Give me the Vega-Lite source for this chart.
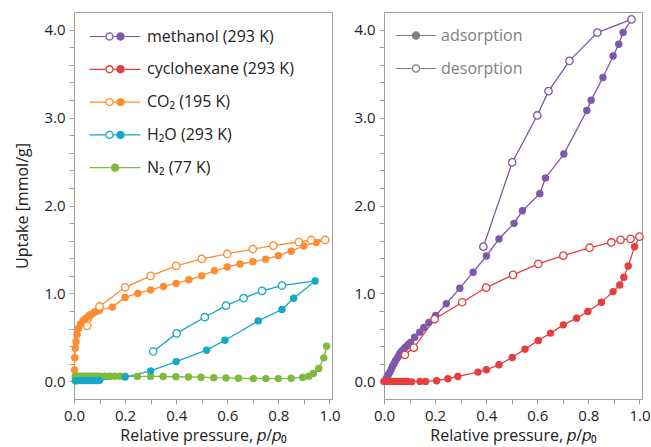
{
"$schema": "https://vega.github.io/schema/vega-lite/v6.json",
"background": "white",
"padding": {"left": 14, "top": 11, "right": 5, "bottom": 3},
"bounds": "flush",
"spacing": 52,
"config": {
  "font": "Open Sans",
  "view": {"stroke": "#a0a0a0", "strokeWidth": 1},
  "axis": {"domainColor": "#a0a0a0", "tickColor": "#a0a0a0", "grid": false, "labelFont": "Open Sans", "labelFontSize": 15, "labelColor": "#222222", "titleFont": "Open Sans", "titleFontSize": 16, "titleFontWeight": "normal", "titleColor": "#222222", "tickSize": 5, "labelPadding": 4, "labelFlush": false, "labelOverlap": false},
  "legend": {"padding": 0, "labelFont": "Open Sans", "labelFontSize": 16, "labelLimit": 300}
},
"resolve": {"scale": {"color": "independent", "shape": "independent"}, "legend": {"color": "independent", "shape": "independent"}},
"datasets": {
  "left": [
    {"g":"CO₂ (195 K)","b":"adsorption","i":1,"p":0.002,"q":0.13},
    {"g":"CO₂ (195 K)","b":"adsorption","i":2,"p":0.003,"q":0.27},
    {"g":"CO₂ (195 K)","b":"adsorption","i":3,"p":0.005,"q":0.38},
    {"g":"CO₂ (195 K)","b":"adsorption","i":4,"p":0.008,"q":0.45},
    {"g":"CO₂ (195 K)","b":"adsorption","i":5,"p":0.012,"q":0.53},
    {"g":"CO₂ (195 K)","b":"adsorption","i":6,"p":0.017,"q":0.6},
    {"g":"CO₂ (195 K)","b":"adsorption","i":7,"p":0.025,"q":0.65},
    {"g":"CO₂ (195 K)","b":"adsorption","i":8,"p":0.035,"q":0.69},
    {"g":"CO₂ (195 K)","b":"adsorption","i":9,"p":0.043,"q":0.71},
    {"g":"CO₂ (195 K)","b":"adsorption","i":10,"p":0.052,"q":0.73},
    {"g":"CO₂ (195 K)","b":"adsorption","i":11,"p":0.061,"q":0.755},
    {"g":"CO₂ (195 K)","b":"adsorption","i":12,"p":0.072,"q":0.77},
    {"g":"CO₂ (195 K)","b":"adsorption","i":13,"p":0.081,"q":0.79},
    {"g":"CO₂ (195 K)","b":"adsorption","i":14,"p":0.091,"q":0.8},
    {"g":"CO₂ (195 K)","b":"adsorption","i":15,"p":0.1,"q":0.81},
    {"g":"CO₂ (195 K)","b":"adsorption","i":16,"p":0.15,"q":0.845},
    {"g":"CO₂ (195 K)","b":"adsorption","i":17,"p":0.2,"q":0.955},
    {"g":"CO₂ (195 K)","b":"adsorption","i":18,"p":0.25,"q":1.0},
    {"g":"CO₂ (195 K)","b":"adsorption","i":19,"p":0.3,"q":1.04},
    {"g":"CO₂ (195 K)","b":"adsorption","i":20,"p":0.35,"q":1.08},
    {"g":"CO₂ (195 K)","b":"adsorption","i":21,"p":0.4,"q":1.115},
    {"g":"CO₂ (195 K)","b":"adsorption","i":22,"p":0.45,"q":1.155},
    {"g":"CO₂ (195 K)","b":"adsorption","i":23,"p":0.5,"q":1.2},
    {"g":"CO₂ (195 K)","b":"adsorption","i":24,"p":0.55,"q":1.26},
    {"g":"CO₂ (195 K)","b":"adsorption","i":25,"p":0.6,"q":1.3},
    {"g":"CO₂ (195 K)","b":"adsorption","i":26,"p":0.65,"q":1.335},
    {"g":"CO₂ (195 K)","b":"adsorption","i":27,"p":0.7,"q":1.36},
    {"g":"CO₂ (195 K)","b":"adsorption","i":28,"p":0.75,"q":1.39},
    {"g":"CO₂ (195 K)","b":"adsorption","i":29,"p":0.8,"q":1.43},
    {"g":"CO₂ (195 K)","b":"adsorption","i":30,"p":0.85,"q":1.48},
    {"g":"CO₂ (195 K)","b":"adsorption","i":31,"p":0.9,"q":1.54},
    {"g":"CO₂ (195 K)","b":"adsorption","i":32,"p":0.948,"q":1.58},
    {"g":"CO₂ (195 K)","b":"desorption","i":33,"p":0.983,"q":1.608},
    {"g":"CO₂ (195 K)","b":"desorption","i":34,"p":0.928,"q":1.608},
    {"g":"CO₂ (195 K)","b":"desorption","i":35,"p":0.88,"q":1.585},
    {"g":"CO₂ (195 K)","b":"desorption","i":36,"p":0.78,"q":1.544},
    {"g":"CO₂ (195 K)","b":"desorption","i":37,"p":0.7,"q":1.505},
    {"g":"CO₂ (195 K)","b":"desorption","i":38,"p":0.6,"q":1.449},
    {"g":"CO₂ (195 K)","b":"desorption","i":39,"p":0.5,"q":1.393},
    {"g":"CO₂ (195 K)","b":"desorption","i":40,"p":0.4,"q":1.313},
    {"g":"CO₂ (195 K)","b":"desorption","i":41,"p":0.3,"q":1.2},
    {"g":"CO₂ (195 K)","b":"desorption","i":42,"p":0.2,"q":1.07},
    {"g":"CO₂ (195 K)","b":"desorption","i":43,"p":0.1,"q":0.852},
    {"g":"CO₂ (195 K)","b":"desorption","i":44,"p":0.052,"q":0.632},
    {"g":"N₂ (77 K)","b":"adsorption","i":1,"p":0.005,"q":0.055},
    {"g":"N₂ (77 K)","b":"adsorption","i":2,"p":0.01,"q":0.058},
    {"g":"N₂ (77 K)","b":"adsorption","i":3,"p":0.02,"q":0.06},
    {"g":"N₂ (77 K)","b":"adsorption","i":4,"p":0.03,"q":0.06},
    {"g":"N₂ (77 K)","b":"adsorption","i":5,"p":0.04,"q":0.06},
    {"g":"N₂ (77 K)","b":"adsorption","i":6,"p":0.05,"q":0.06},
    {"g":"N₂ (77 K)","b":"adsorption","i":7,"p":0.06,"q":0.06},
    {"g":"N₂ (77 K)","b":"adsorption","i":8,"p":0.07,"q":0.06},
    {"g":"N₂ (77 K)","b":"adsorption","i":9,"p":0.08,"q":0.06},
    {"g":"N₂ (77 K)","b":"adsorption","i":10,"p":0.09,"q":0.06},
    {"g":"N₂ (77 K)","b":"adsorption","i":11,"p":0.1,"q":0.06},
    {"g":"N₂ (77 K)","b":"adsorption","i":12,"p":0.12,"q":0.06},
    {"g":"N₂ (77 K)","b":"adsorption","i":13,"p":0.14,"q":0.06},
    {"g":"N₂ (77 K)","b":"adsorption","i":14,"p":0.16,"q":0.06},
    {"g":"N₂ (77 K)","b":"adsorption","i":15,"p":0.18,"q":0.06},
    {"g":"N₂ (77 K)","b":"adsorption","i":16,"p":0.2,"q":0.058},
    {"g":"N₂ (77 K)","b":"adsorption","i":17,"p":0.248,"q":0.057},
    {"g":"N₂ (77 K)","b":"adsorption","i":18,"p":0.3,"q":0.057},
    {"g":"N₂ (77 K)","b":"adsorption","i":19,"p":0.349,"q":0.056},
    {"g":"N₂ (77 K)","b":"adsorption","i":20,"p":0.399,"q":0.053},
    {"g":"N₂ (77 K)","b":"adsorption","i":21,"p":0.448,"q":0.05},
    {"g":"N₂ (77 K)","b":"adsorption","i":22,"p":0.497,"q":0.048},
    {"g":"N₂ (77 K)","b":"adsorption","i":23,"p":0.547,"q":0.042},
    {"g":"N₂ (77 K)","b":"adsorption","i":24,"p":0.595,"q":0.04},
    {"g":"N₂ (77 K)","b":"adsorption","i":25,"p":0.644,"q":0.036},
    {"g":"N₂ (77 K)","b":"adsorption","i":26,"p":0.702,"q":0.032},
    {"g":"N₂ (77 K)","b":"adsorption","i":27,"p":0.751,"q":0.032},
    {"g":"N₂ (77 K)","b":"adsorption","i":28,"p":0.8,"q":0.032},
    {"g":"N₂ (77 K)","b":"adsorption","i":29,"p":0.85,"q":0.035},
    {"g":"N₂ (77 K)","b":"adsorption","i":30,"p":0.895,"q":0.045},
    {"g":"N₂ (77 K)","b":"adsorption","i":31,"p":0.919,"q":0.06},
    {"g":"N₂ (77 K)","b":"adsorption","i":32,"p":0.937,"q":0.09},
    {"g":"N₂ (77 K)","b":"adsorption","i":33,"p":0.958,"q":0.148},
    {"g":"N₂ (77 K)","b":"adsorption","i":34,"p":0.978,"q":0.268},
    {"g":"N₂ (77 K)","b":"adsorption","i":35,"p":0.989,"q":0.4},
    {"g":"H₂O (293 K)","b":"adsorption","i":1,"p":0.005,"q":0.008},
    {"g":"H₂O (293 K)","b":"adsorption","i":2,"p":0.01,"q":0.008},
    {"g":"H₂O (293 K)","b":"adsorption","i":3,"p":0.02,"q":0.009},
    {"g":"H₂O (293 K)","b":"adsorption","i":4,"p":0.03,"q":0.009},
    {"g":"H₂O (293 K)","b":"adsorption","i":5,"p":0.04,"q":0.01},
    {"g":"H₂O (293 K)","b":"adsorption","i":6,"p":0.05,"q":0.01},
    {"g":"H₂O (293 K)","b":"adsorption","i":7,"p":0.06,"q":0.01},
    {"g":"H₂O (293 K)","b":"adsorption","i":8,"p":0.07,"q":0.01},
    {"g":"H₂O (293 K)","b":"adsorption","i":9,"p":0.08,"q":0.01},
    {"g":"H₂O (293 K)","b":"adsorption","i":10,"p":0.09,"q":0.01},
    {"g":"H₂O (293 K)","b":"adsorption","i":11,"p":0.1,"q":0.012},
    {"g":"H₂O (293 K)","b":"adsorption","i":12,"p":0.2,"q":0.05},
    {"g":"H₂O (293 K)","b":"adsorption","i":13,"p":0.3,"q":0.12},
    {"g":"H₂O (293 K)","b":"adsorption","i":14,"p":0.4,"q":0.225},
    {"g":"H₂O (293 K)","b":"adsorption","i":15,"p":0.519,"q":0.355},
    {"g":"H₂O (293 K)","b":"adsorption","i":16,"p":0.591,"q":0.468},
    {"g":"H₂O (293 K)","b":"adsorption","i":17,"p":0.721,"q":0.688},
    {"g":"H₂O (293 K)","b":"adsorption","i":18,"p":0.814,"q":0.817},
    {"g":"H₂O (293 K)","b":"adsorption","i":19,"p":0.86,"q":0.945},
    {"g":"H₂O (293 K)","b":"adsorption","i":20,"p":0.944,"q":1.142},
    {"g":"H₂O (293 K)","b":"desorption","i":21,"p":0.814,"q":1.09},
    {"g":"H₂O (293 K)","b":"desorption","i":22,"p":0.736,"q":1.03},
    {"g":"H₂O (293 K)","b":"desorption","i":23,"p":0.664,"q":0.946},
    {"g":"H₂O (293 K)","b":"desorption","i":24,"p":0.595,"q":0.862},
    {"g":"H₂O (293 K)","b":"desorption","i":25,"p":0.512,"q":0.73},
    {"g":"H₂O (293 K)","b":"desorption","i":26,"p":0.402,"q":0.546},
    {"g":"H₂O (293 K)","b":"desorption","i":27,"p":0.31,"q":0.34}
  ],
  "right": [
    {"g":"methanol (293 K)","b":"adsorption","i":1,"p":0.004,"q":0.008},
    {"g":"methanol (293 K)","b":"adsorption","i":2,"p":0.01,"q":0.04},
    {"g":"methanol (293 K)","b":"adsorption","i":3,"p":0.017,"q":0.076},
    {"g":"methanol (293 K)","b":"adsorption","i":4,"p":0.022,"q":0.1},
    {"g":"methanol (293 K)","b":"adsorption","i":5,"p":0.028,"q":0.135},
    {"g":"methanol (293 K)","b":"adsorption","i":6,"p":0.033,"q":0.17},
    {"g":"methanol (293 K)","b":"adsorption","i":7,"p":0.039,"q":0.202},
    {"g":"methanol (293 K)","b":"adsorption","i":8,"p":0.045,"q":0.235},
    {"g":"methanol (293 K)","b":"adsorption","i":9,"p":0.052,"q":0.265},
    {"g":"methanol (293 K)","b":"adsorption","i":10,"p":0.057,"q":0.29},
    {"g":"methanol (293 K)","b":"adsorption","i":11,"p":0.062,"q":0.315},
    {"g":"methanol (293 K)","b":"adsorption","i":12,"p":0.068,"q":0.34},
    {"g":"methanol (293 K)","b":"adsorption","i":13,"p":0.075,"q":0.36},
    {"g":"methanol (293 K)","b":"adsorption","i":14,"p":0.083,"q":0.385},
    {"g":"methanol (293 K)","b":"adsorption","i":15,"p":0.091,"q":0.405},
    {"g":"methanol (293 K)","b":"adsorption","i":16,"p":0.097,"q":0.425},
    {"g":"methanol (293 K)","b":"adsorption","i":17,"p":0.104,"q":0.443},
    {"g":"methanol (293 K)","b":"adsorption","i":18,"p":0.12,"q":0.503},
    {"g":"methanol (293 K)","b":"adsorption","i":19,"p":0.14,"q":0.56},
    {"g":"methanol (293 K)","b":"adsorption","i":20,"p":0.156,"q":0.612},
    {"g":"methanol (293 K)","b":"adsorption","i":21,"p":0.176,"q":0.67},
    {"g":"methanol (293 K)","b":"adsorption","i":22,"p":0.202,"q":0.75},
    {"g":"methanol (293 K)","b":"adsorption","i":23,"p":0.244,"q":0.883},
    {"g":"methanol (293 K)","b":"adsorption","i":24,"p":0.297,"q":1.06},
    {"g":"methanol (293 K)","b":"adsorption","i":25,"p":0.349,"q":1.242},
    {"g":"methanol (293 K)","b":"adsorption","i":26,"p":0.401,"q":1.426},
    {"g":"methanol (293 K)","b":"adsorption","i":27,"p":0.45,"q":1.62},
    {"g":"methanol (293 K)","b":"adsorption","i":28,"p":0.509,"q":1.797},
    {"g":"methanol (293 K)","b":"adsorption","i":29,"p":0.542,"q":1.94},
    {"g":"methanol (293 K)","b":"adsorption","i":30,"p":0.61,"q":2.135},
    {"g":"methanol (293 K)","b":"adsorption","i":31,"p":0.632,"q":2.313},
    {"g":"methanol (293 K)","b":"adsorption","i":32,"p":0.704,"q":2.585},
    {"g":"methanol (293 K)","b":"adsorption","i":33,"p":0.794,"q":3.08},
    {"g":"methanol (293 K)","b":"adsorption","i":34,"p":0.811,"q":3.198},
    {"g":"methanol (293 K)","b":"adsorption","i":35,"p":0.857,"q":3.455},
    {"g":"methanol (293 K)","b":"adsorption","i":36,"p":0.897,"q":3.7},
    {"g":"methanol (293 K)","b":"adsorption","i":37,"p":0.919,"q":3.833},
    {"g":"methanol (293 K)","b":"adsorption","i":38,"p":0.936,"q":3.966},
    {"g":"methanol (293 K)","b":"desorption","i":39,"p":0.969,"q":4.116},
    {"g":"methanol (293 K)","b":"desorption","i":40,"p":0.835,"q":3.966},
    {"g":"methanol (293 K)","b":"desorption","i":41,"p":0.726,"q":3.644},
    {"g":"methanol (293 K)","b":"desorption","i":42,"p":0.644,"q":3.3},
    {"g":"methanol (293 K)","b":"desorption","i":43,"p":0.6,"q":3.024},
    {"g":"methanol (293 K)","b":"desorption","i":44,"p":0.502,"q":2.49},
    {"g":"methanol (293 K)","b":"desorption","i":45,"p":0.389,"q":1.532},
    {"g":"cyclohexane (293 K)","b":"adsorption","i":1,"p":0.0,"q":0.0},
    {"g":"cyclohexane (293 K)","b":"adsorption","i":2,"p":0.005,"q":0.0},
    {"g":"cyclohexane (293 K)","b":"adsorption","i":3,"p":0.01,"q":0.0},
    {"g":"cyclohexane (293 K)","b":"adsorption","i":4,"p":0.015,"q":0.0},
    {"g":"cyclohexane (293 K)","b":"adsorption","i":5,"p":0.02,"q":0.0},
    {"g":"cyclohexane (293 K)","b":"adsorption","i":6,"p":0.03,"q":0.0},
    {"g":"cyclohexane (293 K)","b":"adsorption","i":7,"p":0.04,"q":0.0},
    {"g":"cyclohexane (293 K)","b":"adsorption","i":8,"p":0.05,"q":0.0},
    {"g":"cyclohexane (293 K)","b":"adsorption","i":9,"p":0.06,"q":0.0},
    {"g":"cyclohexane (293 K)","b":"adsorption","i":10,"p":0.07,"q":0.0},
    {"g":"cyclohexane (293 K)","b":"adsorption","i":11,"p":0.08,"q":0.0},
    {"g":"cyclohexane (293 K)","b":"adsorption","i":12,"p":0.09,"q":0.0},
    {"g":"cyclohexane (293 K)","b":"adsorption","i":13,"p":0.108,"q":-0.005},
    {"g":"cyclohexane (293 K)","b":"adsorption","i":14,"p":0.141,"q":0.0},
    {"g":"cyclohexane (293 K)","b":"adsorption","i":15,"p":0.163,"q":0.0},
    {"g":"cyclohexane (293 K)","b":"adsorption","i":16,"p":0.206,"q":0.008},
    {"g":"cyclohexane (293 K)","b":"adsorption","i":17,"p":0.25,"q":0.03},
    {"g":"cyclohexane (293 K)","b":"adsorption","i":18,"p":0.289,"q":0.056},
    {"g":"cyclohexane (293 K)","b":"adsorption","i":19,"p":0.368,"q":0.106},
    {"g":"cyclohexane (293 K)","b":"adsorption","i":20,"p":0.401,"q":0.132},
    {"g":"cyclohexane (293 K)","b":"adsorption","i":21,"p":0.45,"q":0.189},
    {"g":"cyclohexane (293 K)","b":"adsorption","i":22,"p":0.502,"q":0.272},
    {"g":"cyclohexane (293 K)","b":"adsorption","i":23,"p":0.552,"q":0.367},
    {"g":"cyclohexane (293 K)","b":"adsorption","i":24,"p":0.604,"q":0.465},
    {"g":"cyclohexane (293 K)","b":"adsorption","i":25,"p":0.652,"q":0.549},
    {"g":"cyclohexane (293 K)","b":"adsorption","i":26,"p":0.702,"q":0.643},
    {"g":"cyclohexane (293 K)","b":"adsorption","i":27,"p":0.754,"q":0.719},
    {"g":"cyclohexane (293 K)","b":"adsorption","i":28,"p":0.798,"q":0.795},
    {"g":"cyclohexane (293 K)","b":"adsorption","i":29,"p":0.851,"q":0.9},
    {"g":"cyclohexane (293 K)","b":"adsorption","i":30,"p":0.897,"q":1.021},
    {"g":"cyclohexane (293 K)","b":"adsorption","i":31,"p":0.923,"q":1.097},
    {"g":"cyclohexane (293 K)","b":"adsorption","i":32,"p":0.939,"q":1.184},
    {"g":"cyclohexane (293 K)","b":"adsorption","i":33,"p":0.956,"q":1.313},
    {"g":"cyclohexane (293 K)","b":"adsorption","i":34,"p":0.981,"q":1.532},
    {"g":"cyclohexane (293 K)","b":"desorption","i":35,"p":1.0,"q":1.646},
    {"g":"cyclohexane (293 K)","b":"desorption","i":36,"p":0.965,"q":1.62},
    {"g":"cyclohexane (293 K)","b":"desorption","i":37,"p":0.926,"q":1.61},
    {"g":"cyclohexane (293 K)","b":"desorption","i":38,"p":0.89,"q":1.58},
    {"g":"cyclohexane (293 K)","b":"desorption","i":39,"p":0.805,"q":1.52},
    {"g":"cyclohexane (293 K)","b":"desorption","i":40,"p":0.702,"q":1.43},
    {"g":"cyclohexane (293 K)","b":"desorption","i":41,"p":0.604,"q":1.336},
    {"g":"cyclohexane (293 K)","b":"desorption","i":42,"p":0.505,"q":1.211},
    {"g":"cyclohexane (293 K)","b":"desorption","i":43,"p":0.4,"q":1.067},
    {"g":"cyclohexane (293 K)","b":"desorption","i":44,"p":0.306,"q":0.9},
    {"g":"cyclohexane (293 K)","b":"desorption","i":45,"p":0.198,"q":0.708},
    {"g":"cyclohexane (293 K)","b":"desorption","i":46,"p":0.117,"q":0.385},
    {"g":"cyclohexane (293 K)","b":"desorption","i":47,"p":0.082,"q":0.302}
  ]
},
"hconcat": [
  {
    "width": 258, "height": 387,
    "data": {"name": "left"},
    "encoding": {
      "x": {"field": "p", "type": "quantitative", "scale": {"domain": [0, 1.01], "nice": false, "zero": false},
            "axis": {"values": [0,0.1,0.2,0.3,0.4,0.5,0.6,0.7,0.8,0.9,1.0], "labelExpr": "round(datum.value*10) % 2 == 0 ? format(datum.value, '.1f') : ''", "title": "Relative pressure, 𝑝/𝑝₀", "titlePadding": 4}},
      "y": {"field": "q", "type": "quantitative", "scale": {"domain": [-0.2, 4.2], "nice": false, "zero": false},
            "axis": {"values": [0,0.2,0.4,0.6,0.8,1.0,1.2,1.4,1.6,1.8,2.0,2.2,2.4,2.6,2.8,3.0,3.2,3.4,3.6,3.8,4.0], "labelExpr": "abs(datum.value - round(datum.value)) < 0.01 ? format(datum.value, '.1f') : ''", "title": "Uptake [mmol/g]", "titlePadding": 13}}
    },
    "layer": [
      {"transform": [{"filter": "false"}],
       "mark": {"type": "point", "filled": true, "opacity": 1},
       "encoding": {
         "color": {"field": "g", "type": "nominal", "scale": {"domain": ["methanol (293 K)","cyclohexane (293 K)","CO₂ (195 K)","H₂O (293 K)","N₂ (77 K)"], "range": ["#7E57AB","#E53E3E","#FF8C2E","#14A8C8","#7FBA3C"]},
           "legend": {"orient": "none", "legendX": 24.5, "legendY": 8, "title": null, "symbolSize": 1056, "symbolStrokeWidth": 0, "symbolOpacity": 1, "rowPadding": 7.8, "labelOffset": 15.5, "labelColor": "#222222"}},
         "shape": {"field": "g", "type": "nominal", "scale": {"domain": ["methanol (293 K)","cyclohexane (293 K)","CO₂ (195 K)","H₂O (293 K)","N₂ (77 K)"],
           "range": [
             "M-1.569,-0.037H-0.596V0.037H-1.569Z M-0.08,-0.037H0.08V0.037H-0.08Z M0.596,-0.037H1.569V0.037H0.596Z M-0.08,0A0.258,0.258,0,1,1,-0.596,0A0.258,0.258,0,1,1,-0.08,0Z M-0.16,0A0.178,0.178,0,1,0,-0.516,0A0.178,0.178,0,1,0,-0.16,0Z M0.596,0A0.258,0.258,0,1,1,0.08,0A0.258,0.258,0,1,1,0.596,0Z",
             "M-1.569,-0.037H-0.596V0.037H-1.569Z M-0.08,-0.037H0.08V0.037H-0.08Z M0.596,-0.037H1.569V0.037H0.596Z M-0.08,0A0.258,0.258,0,1,1,-0.596,0A0.258,0.258,0,1,1,-0.08,0Z M-0.16,0A0.178,0.178,0,1,0,-0.516,0A0.178,0.178,0,1,0,-0.16,0Z M0.596,0A0.258,0.258,0,1,1,0.08,0A0.258,0.258,0,1,1,0.596,0Z",
             "M-1.569,-0.037H-0.596V0.037H-1.569Z M-0.08,-0.037H0.08V0.037H-0.08Z M0.596,-0.037H1.569V0.037H0.596Z M-0.08,0A0.258,0.258,0,1,1,-0.596,0A0.258,0.258,0,1,1,-0.08,0Z M-0.16,0A0.178,0.178,0,1,0,-0.516,0A0.178,0.178,0,1,0,-0.16,0Z M0.596,0A0.258,0.258,0,1,1,0.08,0A0.258,0.258,0,1,1,0.596,0Z",
             "M-1.569,-0.037H-0.596V0.037H-1.569Z M-0.08,-0.037H0.08V0.037H-0.08Z M0.596,-0.037H1.569V0.037H0.596Z M-0.08,0A0.258,0.258,0,1,1,-0.596,0A0.258,0.258,0,1,1,-0.08,0Z M-0.16,0A0.178,0.178,0,1,0,-0.516,0A0.178,0.178,0,1,0,-0.16,0Z M0.596,0A0.258,0.258,0,1,1,0.08,0A0.258,0.258,0,1,1,0.596,0Z",
             "M-1.569,-0.037H-0.258V0.037H-1.569Z M0.258,-0.037H1.569V0.037H0.258Z M0.258,0A0.258,0.258,0,1,1,-0.258,0A0.258,0.258,0,1,1,0.258,0Z"]},
           "legend": {"orient": "none", "legendX": 24.5, "legendY": 8, "title": null, "symbolSize": 1056, "symbolStrokeWidth": 0, "symbolOpacity": 1, "rowPadding": 7.8, "labelOffset": 15.5, "labelColor": "#222222"}}
       }},
      {"mark": {"type": "line", "strokeWidth": 1.3},
       "encoding": {"color": {"field": "g", "type": "nominal"},
                    "detail": {"field": "g"}, "order": {"field": "i", "type": "quantitative"}}},
      {"transform": [{"filter": "datum.b === 'adsorption'"}],
       "mark": {"type": "point", "shape": "circle", "filled": true, "size": 55, "opacity": 1},
       "encoding": {"color": {"field": "g", "type": "nominal"}}},
      {"transform": [{"filter": "datum.b === 'desorption'"}],
       "mark": {"type": "point", "shape": "circle", "filled": false, "fill": "white", "size": 55, "strokeWidth": 1.3, "opacity": 1},
       "encoding": {"color": {"field": "g", "type": "nominal"}}}
    ]
  },
  {
    "width": 258, "height": 387,
    "data": {"name": "right"},
    "encoding": {
      "x": {"field": "p", "type": "quantitative", "scale": {"domain": [0, 1.01], "nice": false, "zero": false},
            "axis": {"values": [0,0.1,0.2,0.3,0.4,0.5,0.6,0.7,0.8,0.9,1.0], "labelExpr": "round(datum.value*10) % 2 == 0 ? format(datum.value, '.1f') : ''", "title": "Relative pressure, 𝑝/𝑝₀", "titlePadding": 4}},
      "y": {"field": "q", "type": "quantitative", "scale": {"domain": [-0.2, 4.2], "nice": false, "zero": false},
            "axis": {"values": [0,0.2,0.4,0.6,0.8,1.0,1.2,1.4,1.6,1.8,2.0,2.2,2.4,2.6,2.8,3.0,3.2,3.4,3.6,3.8,4.0], "labelExpr": "abs(datum.value - round(datum.value)) < 0.01 ? format(datum.value, '.1f') : ''", "title": null}}
    },
    "layer": [
      {"transform": [{"filter": "false"}],
       "mark": {"type": "point", "filled": true, "color": "#808080", "opacity": 1},
       "encoding": {
         "shape": {"field": "b", "type": "nominal", "scale": {"domain": ["adsorption","desorption"],
           "range": [
             "M-1.212,-0.036H-0.255V0.036H-1.212Z M0.255,-0.036H1.212V0.036H0.255Z M0.255,0A0.255,0.255,0,1,1,-0.255,0A0.255,0.255,0,1,1,0.255,0Z",
             "M-1.212,-0.036H-0.255V0.036H-1.212Z M0.255,-0.036H1.212V0.036H0.255Z M0.255,0A0.255,0.255,0,1,1,-0.255,0A0.255,0.255,0,1,1,0.255,0Z M0.176,0A0.176,0.176,0,1,0,-0.176,0A0.176,0.176,0,1,0,0.176,0Z"]},
           "legend": {"orient": "none", "legendX": 15.5, "legendY": 7, "title": null, "symbolSize": 1089, "symbolStrokeWidth": 0, "symbolOpacity": 1, "symbolFillColor": "#808080", "rowPadding": 8, "labelOffset": 8.5, "labelColor": "#808080"}}
       }},
      {"mark": {"type": "line", "strokeWidth": 1.3},
       "encoding": {"color": {"field": "g", "type": "nominal", "scale": {"domain": ["methanol (293 K)","cyclohexane (293 K)"], "range": ["#7E57AB","#E53E3E"]}, "legend": null},
                    "detail": {"field": "g"}, "order": {"field": "i", "type": "quantitative"}}},
      {"transform": [{"filter": "datum.b === 'adsorption'"}],
       "mark": {"type": "point", "shape": "circle", "filled": true, "size": 55, "opacity": 1},
       "encoding": {"color": {"field": "g", "type": "nominal", "scale": {"domain": ["methanol (293 K)","cyclohexane (293 K)"], "range": ["#7E57AB","#E53E3E"]}, "legend": null}}},
      {"transform": [{"filter": "datum.b === 'desorption'"}],
       "mark": {"type": "point", "shape": "circle", "filled": false, "fill": "white", "size": 55, "strokeWidth": 1.3, "opacity": 1},
       "encoding": {"color": {"field": "g", "type": "nominal", "scale": {"domain": ["methanol (293 K)","cyclohexane (293 K)"], "range": ["#7E57AB","#E53E3E"]}, "legend": null}}}
    ]
  }
]
}
